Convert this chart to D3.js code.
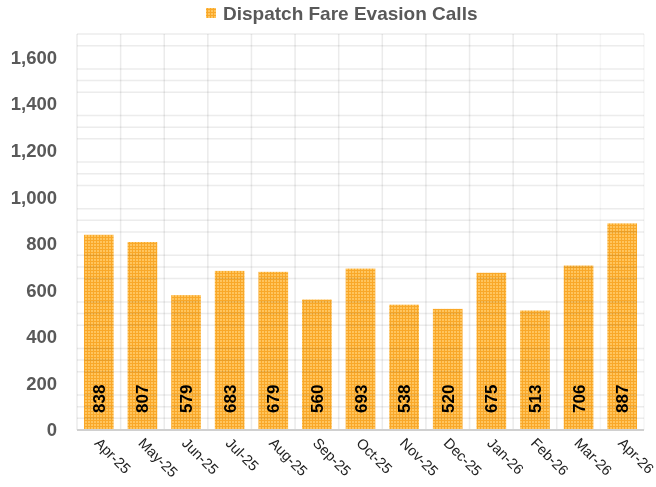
<!DOCTYPE html>
<html><head><meta charset="utf-8">
<script src="https://cdn.jsdelivr.net/npm/d3@7"></script>
<style>body{margin:0;background:#fff;} svg{display:block;}</style>
</head><body><svg id="c" width="656" height="487"></svg>
<script>
const categories = ["Apr-25","May-25","Jun-25","Jul-25","Aug-25","Sep-25","Oct-25","Nov-25","Dec-25","Jan-26","Feb-26","Mar-26","Apr-26"];
const values = [838,807,579,683,679,560,693,538,520,675,513,706,887];
const yTicks = [0,200,400,600,800,1000,1200,1400,1600];
const seriesName = "Dispatch Fare Evasion Calls";

const svg = d3.select("#c");
const x = d3.scaleBand().domain(categories).range([77, 644]).paddingInner(0.32).paddingOuter(0.16);
const y = d3.scaleLinear().domain([0, 1700]).range([430, 34]);

const defs = svg.append("defs");
const pat = defs.append("pattern").attr("id","hatch").attr("patternUnits","userSpaceOnUse").attr("width",3).attr("height",3);
pat.append("rect").attr("width",3).attr("height",3).attr("fill","#FFC55E");
pat.append("rect").attr("width",3).attr("height",1).attr("fill","#F9A829");
pat.append("rect").attr("width",1).attr("height",3).attr("fill","#F9A829");

const step = x.step();
const bounds = d3.range(categories.length + 1).map(i => x.range()[0] + i * step);
svg.append("g").selectAll("line").data(bounds).join("line")
  .attr("x1", d => d).attr("x2", d => d).attr("y1", y(1700)).attr("y2", y(0))
  .attr("stroke", (d,i) => i >= categories.length - 1 ? "#f6f6f6" : "#ebebeb").attr("stroke-width", 1.5);

svg.append("g").selectAll("rect").data(values).join("rect")
  .attr("x", (d,i) => x(categories[i])).attr("width", x.bandwidth())
  .attr("y", d => y(d)).attr("height", d => y(0) - y(d))
  .attr("fill", "url(#hatch)");

const gridVals = d3.range(50, 1750, 50).filter(v => v % 200 !== 0);
svg.append("g").style("mix-blend-mode","multiply").selectAll("line").data(gridVals).join("line")
  .attr("x1", 77).attr("x2", 644).attr("y1", d => y(d)).attr("y2", d => y(d))
  .attr("stroke", "#ececec").attr("stroke-width", 1.5);

svg.append("line").attr("x1",77).attr("x2",644).attr("y1",y(0)).attr("y2",y(0)).attr("stroke","#d0d0d0").attr("stroke-width",2);

svg.append("g").selectAll("text").data(yTicks).join("text")
  .attr("x", 57).attr("y", d => y(d)).attr("dy","0.35em").attr("text-anchor","end")
  .attr("font-family","Liberation Sans, Arial, sans-serif").attr("font-weight","bold").attr("font-size",18.5)
  .attr("fill","#595959").text(d => d3.format(",")(d));

svg.append("g").selectAll("text").data(values).join("text")
  .attr("transform", (d,i) => `translate(${x(categories[i]) + x.bandwidth()/2 + 6},${y(0) - 17}) rotate(-90)`)
  .attr("text-anchor","start")
  .attr("font-family","Liberation Sans, Arial, sans-serif").attr("font-weight","bold").attr("font-size",17)
  .attr("fill","#000").text(d => d);

svg.append("g").selectAll("text").data(categories).join("text")
  .attr("transform", d => `translate(${x(d) + x.bandwidth()/2 - 5},${444}) rotate(45)`)
  .attr("text-anchor","start")
  .attr("font-family","Liberation Sans, Arial, sans-serif").attr("font-size",14.5)
  .attr("fill","#222").text(d => d);

svg.append("rect").attr("x",206).attr("y",8).attr("width",10).attr("height",10).attr("fill","url(#hatch)");
svg.append("text").attr("x",223).attr("y",20).attr("font-family","Liberation Sans, Arial, sans-serif")
  .attr("font-weight","bold").attr("font-size",19).attr("fill","#595959").text(seriesName);
</script></body></html>
